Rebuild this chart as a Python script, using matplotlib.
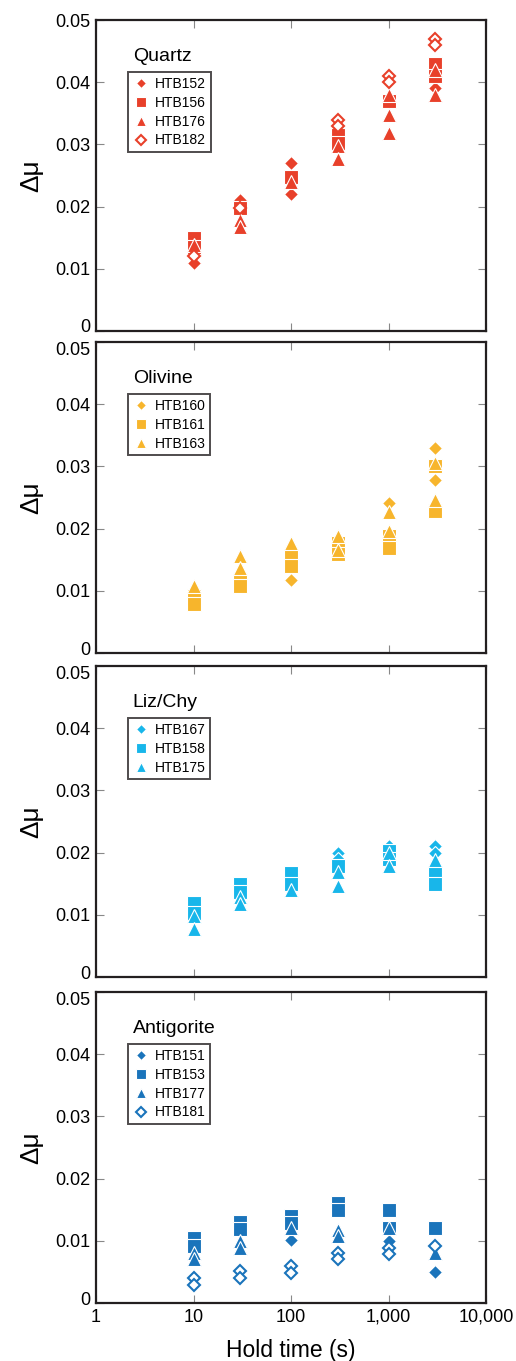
import matplotlib.pyplot as plt
import matplotlib.transforms as mtransforms
from matplotlib.ticker import FixedLocator, NullLocator

plt.rcParams['font.family'] = ['Liberation Sans', 'DejaVu Sans']

# Quartz data (hold time, delta mu)
htb152_x = [10, 30, 100, 100, 3000]
htb152_y = [0.011, 0.021, 0.027, 0.022, 0.039]
htb156_x = [10, 10, 30, 100, 300, 300, 1000, 3000, 3000]
htb156_y = [0.015, 0.0135, 0.0197, 0.0248, 0.0315, 0.0302, 0.037, 0.043, 0.041]
htb176_x = [10, 30, 30, 100, 300, 300, 1000, 1000, 1000, 3000, 3000]
htb176_y = [0.0138, 0.0178, 0.0167, 0.024, 0.0298, 0.0277, 0.038, 0.0348, 0.0318, 0.042, 0.038]
htb182_x = [10, 30, 300, 300, 1000, 1000, 3000, 3000]
htb182_y = [0.012, 0.0197, 0.034, 0.0329, 0.041, 0.040, 0.047, 0.046]

# Olivine data
htb160_x = [100, 1000, 3000, 3000]
htb160_y = [0.0118, 0.0241, 0.033, 0.0278]
htb161_x = [10, 10, 30, 30, 100, 100, 300, 300, 1000, 1000, 3000, 3000]
htb161_y = [0.0091, 0.0078, 0.0118, 0.0108, 0.0156, 0.014, 0.0177, 0.0159, 0.0188, 0.0169, 0.030, 0.0228]
htb163_x = [10, 30, 30, 100, 300, 300, 1000, 1000, 3000, 3000]
htb163_y = [0.0107, 0.0156, 0.0137, 0.0177, 0.0188, 0.0166, 0.0227, 0.0196, 0.0306, 0.0246]

# Liz/Chy data
htb167_x = [300, 300, 1000, 3000, 3000]
htb167_y = [0.020, 0.019, 0.021, 0.021, 0.020]
htb158_x = [10, 10, 30, 30, 100, 100, 300, 1000, 1000, 3000, 3000]
htb158_y = [0.0119, 0.0103, 0.0149, 0.0137, 0.0168, 0.015, 0.0178, 0.0202, 0.019, 0.0167, 0.0149]
htb175_x = [10, 10, 30, 30, 100, 300, 300, 1000, 1000, 3000]
htb175_y = [0.0098, 0.0078, 0.0128, 0.0117, 0.014, 0.0169, 0.0147, 0.0199, 0.0179, 0.0189]

# Antigorite data
htb151_x = [100, 1000, 3000]
htb151_y = [0.0102, 0.010, 0.005]
htb153_x = [10, 10, 30, 30, 100, 100, 300, 300, 1000, 1000, 3000]
htb153_y = [0.0104, 0.0091, 0.013, 0.0119, 0.014, 0.0128, 0.0161, 0.015, 0.015, 0.012, 0.012]
htb177_x = [10, 10, 30, 30, 100, 300, 300, 1000, 3000]
htb177_y = [0.008, 0.007, 0.0099, 0.0088, 0.012, 0.0118, 0.0107, 0.012, 0.008]
htb181_x = [10, 10, 30, 30, 100, 100, 300, 300, 1000, 1000, 3000]
htb181_y = [0.004, 0.0029, 0.0051, 0.004, 0.006, 0.0049, 0.008, 0.007, 0.0088, 0.0079, 0.0091]

red = '#e8402a'
orange = '#f7b52c'
cyan = '#18b6ea'
blue = '#1a74bb'

panels = [
    ('Quartz', red, [('HTB152', 'D', htb152_x, htb152_y, True),
                     ('HTB156', 's', htb156_x, htb156_y, True),
                     ('HTB176', '^', htb176_x, htb176_y, True),
                     ('HTB182', 'D', htb182_x, htb182_y, False)]),
    ('Olivine', orange, [('HTB160', 'D', htb160_x, htb160_y, True),
                         ('HTB161', 's', htb161_x, htb161_y, True),
                         ('HTB163', '^', htb163_x, htb163_y, True)]),
    ('Liz/Chy', cyan, [('HTB167', 'D', htb167_x, htb167_y, True),
                       ('HTB158', 's', htb158_x, htb158_y, True),
                       ('HTB175', '^', htb175_x, htb175_y, True)]),
    ('Antigorite', blue, [('HTB151', 'D', htb151_x, htb151_y, True),
                          ('HTB153', 's', htb153_x, htb153_y, True),
                          ('HTB177', '^', htb177_x, htb177_y, True),
                          ('HTB181', 'D', htb181_x, htb181_y, False)]),
]

bottoms = [0.7568, 0.5202, 0.2821, 0.0426]
sizes = {'D': 6.8, 's': 9.5, '^': 9.5}

fig = plt.figure(figsize=(5.16, 13.61), dpi=100)
# small nudges so the 0 / 0.05 labels of stacked panels don't collide
up = mtransforms.ScaledTranslation(0, 0.05, fig.dpi_scale_trans)
down = mtransforms.ScaledTranslation(0, -0.06, fig.dpi_scale_trans)

for i in range(len(panels)):
    name, col, series = panels[i]
    ax = fig.add_axes([0.186, bottoms[i], 0.756, 0.2285])
    for label, mk, xs, ys, filled in series:
        if filled:
            ax.plot(xs, ys, linestyle='none', marker=mk, markersize=sizes[mk],
                    color=col, markeredgecolor='white', markeredgewidth=0.8, label=label)
        else:
            ax.plot(xs, ys, linestyle='none', marker=mk, markersize=6.2,
                    markerfacecolor='white', markeredgecolor=col, markeredgewidth=1.5, label=label)
    ax.set_xscale('log')
    ax.set_xlim(1, 10000)
    ax.set_ylim(0, 0.05)
    ax.xaxis.set_major_locator(FixedLocator([1, 10, 100, 1000, 10000]))
    ax.xaxis.set_minor_locator(NullLocator())
    ax.set_yticks([0, 0.01, 0.02, 0.03, 0.04, 0.05])
    ax.set_yticklabels(['0', '0.01', '0.02', '0.03', '0.04', '0.05'])
    ax.tick_params(direction='in', top=True, right=True, length=6, width=0.8,
                   color='#888888', labelsize=13, pad=4)
    if i == 3:
        ax.set_xticklabels(['1', '10', '100', '1,000', '10,000'])
        ax.set_xlabel('Hold time (s)', fontsize=16.5, labelpad=10)
    else:
        ax.set_xticklabels([])
    yt = ax.yaxis.get_major_ticks()
    yt[0].label1.set_transform(yt[0].label1.get_transform() + up)
    if i > 0:
        yt[-1].label1.set_transform(yt[-1].label1.get_transform() + down)
    for s in ax.spines.values():
        s.set_linewidth(1.6)
        s.set_color('#231f20')
    ax.set_ylabel('Δμ', fontsize=19, labelpad=9)
    ax.text(0.094, 0.882, name, transform=ax.transAxes, fontsize=14, va='center')
    leg = ax.legend(loc='upper left', bbox_to_anchor=(0.081, 0.833), fontsize=10,
                    frameon=True, fancybox=False, edgecolor='#231f20', handletextpad=0.4,
                    handlelength=1.2, borderpad=0.35, labelspacing=0.35, markerscale=0.8,
                    borderaxespad=0)
    leg.get_frame().set_linewidth(1.4)

plt.savefig('out.png', dpi=100)
